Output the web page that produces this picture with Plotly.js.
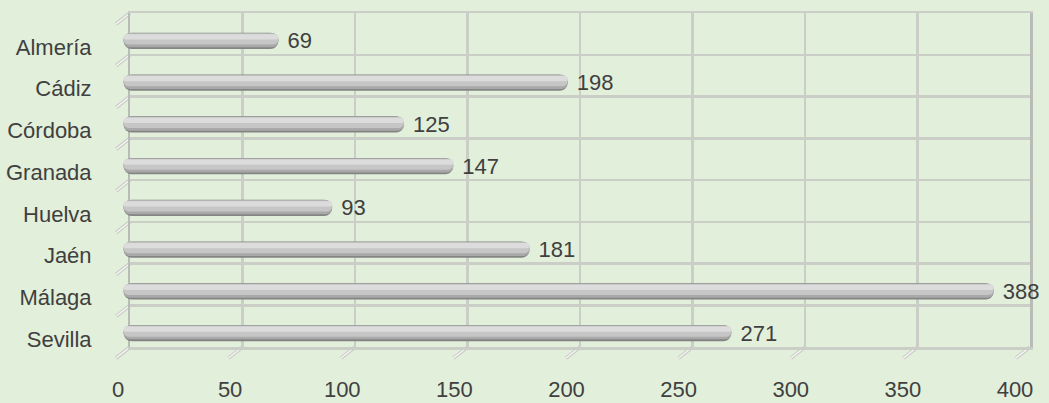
<!DOCTYPE html>
<html>
<head>
<meta charset="utf-8">
<script src="https://cdn.plot.ly/plotly-3.0.1.min.js"></script>
<style>html,body{margin:0;padding:0;background:#e2efda;}#chart{width:1049px;height:403px;}</style>
</head>
<body>
<div id="chart"></div>
<script>
const categories = ['Almería', 'Cádiz', 'Córdoba', 'Granada', 'Huelva', 'Jaén', 'Málaga', 'Sevilla'];
const values = [69, 198, 125, 147, 93, 181, 388, 271];
const xTickVals = [0, 50, 100, 150, 200, 250, 300, 350, 400];
const gridRows = [0, 1, 2, 3, 4, 5, 6, 7, 8];

const FONT = '"Liberation Sans", Arial, sans-serif';
const FS = 22;
const TXT = '#404040';
const BASE = 2.5;

// cylinder-like layered bars (drawn on the front subplot x2/y2)
const layers = [
  {color: '#848484', width: 0.39, offset: -0.339},
  {color: '#a9a9a9', width: 0.335, offset: -0.329},
  {color: '#c6c6c6', width: 0.265, offset: -0.321},
  {color: '#dcdcdc', width: 0.13, offset: -0.305}
];

const traces = [{
  type: 'scatter', x: [], y: [], xaxis: 'x', yaxis: 'y',
  mode: 'markers', hoverinfo: 'skip', showlegend: false
}];

layers.forEach((l, i) => traces.push({
  type: 'bar',
  orientation: 'h',
  x: values,
  y: categories,
  base: BASE,
  width: l.width,
  offset: l.offset,
  marker: {color: l.color, cornerradius: '50%', line: {width: 0}},
  text: i === 0 ? values.map(v => '\u00a0' + v) : undefined,
  textposition: i === 0 ? 'outside' : 'none',
  constraintext: 'none',
  textfont: {family: FONT, size: FS, color: TXT},
  cliponaxis: false,
  hoverinfo: 'skip',
  showlegend: false,
  xaxis: 'x2',
  yaxis: 'y2'
}));

const GRID = '#cbcec7';
// back wall (grid) subplot
const XDOM = [0.01316, 1];
const YDOM = [0.03746, 1];
const XRANGE = [0, 400];
const YRANGE = [0, 8];
const toPaperX = v => XDOM[0] + (v - XRANGE[0]) / (XRANGE[1] - XRANGE[0]) * (XDOM[1] - XDOM[0]);
const toPaperY = v => YDOM[0] + (v - YRANGE[0]) / (YRANGE[1] - YRANGE[0]) * (YDOM[1] - YDOM[0]);

// 3D depth ticks (floor / side wall edges)
const shapes = [];
const depthStyles = [['#c9cbc6', 3.5], ['#f6f7f4', 1.5]];
xTickVals.forEach(v => {
  depthStyles.forEach(([c, w]) => shapes.push({
    type: 'line', layer: 'below',
    xref: 'paper', xsizemode: 'pixel', xanchor: toPaperX(v), x0: 0, x1: -14,
    yref: 'paper', ysizemode: 'pixel', yanchor: toPaperY(0), y0: 0, y1: -11,
    line: {color: c, width: w}
  }));
});
gridRows.forEach(r => {
  depthStyles.forEach(([c, w]) => shapes.push({
    type: 'line', layer: 'below',
    xref: 'paper', xsizemode: 'pixel', xanchor: toPaperX(0), x0: 0, x1: -14,
    yref: 'paper', ysizemode: 'pixel', yanchor: toPaperY(r), y0: 0, y1: -11,
    line: {color: c, width: w}
  }));
});

const layout = {
  width: 1049, height: 403,
  paper_bgcolor: '#e2efda',
  plot_bgcolor: 'rgba(0,0,0,0)',
  margin: {l: 118, r: 19, t: 13, b: 43, pad: 0},
  barmode: 'overlay',
  font: {family: FONT, size: FS, color: TXT},
  xaxis: {
    domain: XDOM, range: XRANGE, anchor: 'y',
    dtick: 50, tick0: 0, showticklabels: false,
    showgrid: true, gridcolor: GRID, gridwidth: 2.5,
    zeroline: true, zerolinecolor: GRID, zerolinewidth: 2.5,
    showline: true, mirror: true, linecolor: GRID, linewidth: 2.5, fixedrange: true
  },
  yaxis: {
    domain: YDOM, range: YRANGE, anchor: 'x',
    dtick: 1, tick0: 0, showticklabels: false,
    showgrid: true, gridcolor: GRID, gridwidth: 2.5,
    zeroline: true, zerolinecolor: GRID, zerolinewidth: 2.5,
    showline: true, mirror: true, linecolor: '#b9bbb6', linewidth: 2.5, fixedrange: true
  },
  xaxis2: {
    domain: [0, 0.98355], range: [0, 400], anchor: 'y2',
    tickvals: xTickVals, ticktext: xTickVals.map(String),
    showgrid: false, zeroline: false, showline: false,
    ticks: 'outside', ticklen: 10, tickcolor: 'rgba(0,0,0,0)',
    tickfont: {family: FONT, size: FS, color: TXT}, fixedrange: true
  },
  yaxis2: {
    domain: [0, 0.9625], anchor: 'x2', type: 'category',
    categoryorder: 'array', categoryarray: categories,
    range: [7.5, -0.5],
    showgrid: false, zeroline: false, showline: false,
    ticks: 'outside', ticklen: 21, tickcolor: 'rgba(0,0,0,0)',
    tickfont: {family: FONT, size: FS, color: TXT}, fixedrange: true
  },
  shapes: shapes
};

Plotly.newPlot('chart', traces, layout, {displayModeBar: false, staticPlot: true});
</script>
</body>
</html>
